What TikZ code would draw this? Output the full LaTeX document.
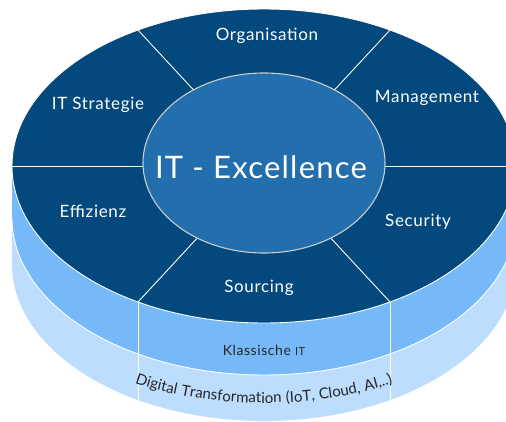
\documentclass[tikz,border=0pt]{standalone}
\usepackage{fontspec}
\setmainfont{Lato}[LetterSpace=4]
\usetikzlibrary{decorations.text}

\definecolor{navy}{HTML}{03497D}
\definecolor{coreblue}{HTML}{236EAC}
\definecolor{midband}{HTML}{76B9F8}
\definecolor{lowband}{HTML}{BCDDFD}

\begin{document}
\begin{tikzpicture}[
  x=1pt,
  y=1pt,
  edge/.style={draw=white, line width=0.9pt},
  layer/.style={x radius=252, y radius=157},
  seglabel/.style={text=white, font=\fontsize{17}{17}\selectfont},
  corelabel/.style={text=white, font=\fontsize{31}{31}\selectfont},
  bandlabel/.style={text=black!85, font=\fontsize{14}{14}\selectfont}
]
\useasboundingbox (-264,-255) rectangle (242,166);
\clip (-264,-255) rectangle (242,166);

\fill[lowband] (0,-98) ellipse [layer];
\fill[lowband] (-252,-98) rectangle (252,0);
\fill[midband] (0,-52) ellipse [layer];
\fill[midband] (-252,-52) rectangle (252,0);
\draw[edge] (-252,-52) arc [start angle=180, end angle=360, layer];
\filldraw[fill=navy, edge] (0,0) ellipse [layer];

\coordinate (rimL) at (240:252 and 157);
\coordinate (rimR) at (300:252 and 157);
\draw[edge] (rimL) -- ++(0,-98);
\draw[edge] (rimR) -- ++(0,-98);

\foreach \a in {0,60,...,300}
  \draw[edge] (0,0) -- (\a:252 and 157);

\filldraw[fill=coreblue, draw=gray!40, line width=1.1pt]
  (0,3) ellipse [x radius=121, y radius=90];

\node[corelabel] (core) at (-3,-1) {IT - Excellence};
\node[seglabel] (org) at (3,130) {Organisation};
\node[seglabel] (mgmt) at (163,68) {Management};
\node[seglabel] (strat) at (-166,61) {IT Strategie};
\node[seglabel] (eff) at (-171,-45) {Effizienz};
\node[seglabel] (sec) at (154,-56) {Security};
\node[seglabel] (src) at (-5,-122) {Sourcing};

\node[bandlabel] (classic) at (0,-184)
  {Klassische {\fontsize{11}{11}\selectfont IT}};

\path[decorate, decoration={text along path, text align=center,
    text color=black!85,
    text={|\fontsize{15}{15}\selectfont|Digital Transformation (IoT, Cloud, AI,..)}}]
  (0,-112) ++(200:240 and 125)
  arc [start angle=200, end angle=340, x radius=240, y radius=125];

\end{tikzpicture}
\end{document}
